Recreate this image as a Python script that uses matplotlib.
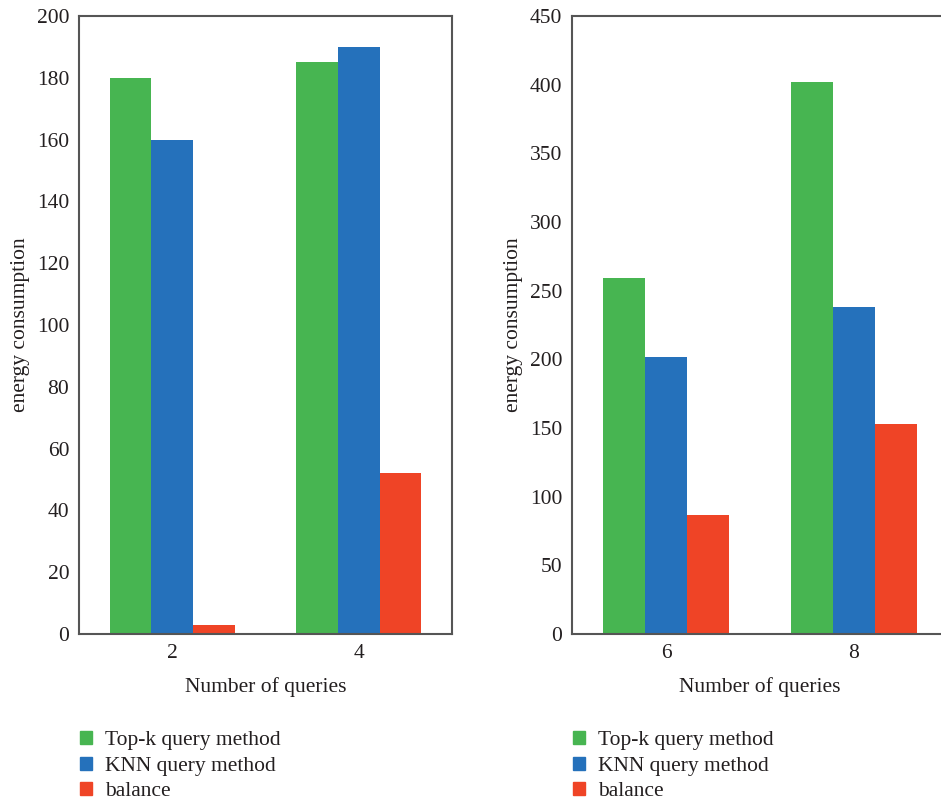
import numpy as np
import matplotlib.pyplot as plt
from matplotlib.patches import Patch

plt.rcParams['font.family'] = ['Liberation Serif', 'DejaVu Serif']

series = ['Top-k query method', 'KNN query method', 'balance']
colors = ['#47b551', '#2571bb', '#ef4426']

left_cats = ['2', '4']
left_vals = [[180, 185], [160, 190], [3, 52]]

right_cats = ['6', '8']
right_vals = [[259, 402], [202, 238], [87, 153]]

W, H = 941, 805
fs = 15.5
txt = '#231f20'
fig = plt.figure(figsize=(W / 100, H / 100), dpi=100)


def draw(rect, cats, vals, ymax, step, legx):
    ax = fig.add_axes(rect)
    x = np.arange(len(cats))
    w = 0.223
    for i, v in enumerate(vals):
        ax.bar(x + (i - 1) * w, v, w, color=colors[i], linewidth=0)
    ax.set_xlim(-0.5, 1.5)
    ax.set_ylim(0, ymax)
    ax.set_yticks(np.arange(0, ymax + 1, step))
    ax.set_xticks(x)
    ax.set_xticklabels(cats)
    ax.tick_params(length=0, labelsize=fs, colors=txt, pad=7)
    for s in ax.spines.values():
        s.set_color('#555555')
        s.set_linewidth(1.5)
    ax.set_xlabel('Number of queries', fontsize=fs, color=txt, labelpad=10)
    ax.set_ylabel('energy consumption', fontsize=fs, color=txt, labelpad=5)
    handles = [Patch(color=c, label=s) for c, s in zip(colors, series)]
    fig.legend(handles=handles, loc='upper left', bbox_to_anchor=(legx / W, 1 - 731 / H),
               frameon=False, fontsize=fs, handlelength=0.55, handleheight=0.55,
               handletextpad=0.6, labelspacing=0.3, borderpad=0, borderaxespad=0,
               labelcolor=txt)
    return ax


draw([79 / W, 1 - 634 / H, (452 - 79) / W, (634 - 16) / H], left_cats, left_vals, 200, 20, 80)
draw([572 / W, 1 - 634 / H, (948 - 572) / W, (634 - 16) / H], right_cats, right_vals, 450, 50, 573)

fig.savefig('out.png', dpi=100)
